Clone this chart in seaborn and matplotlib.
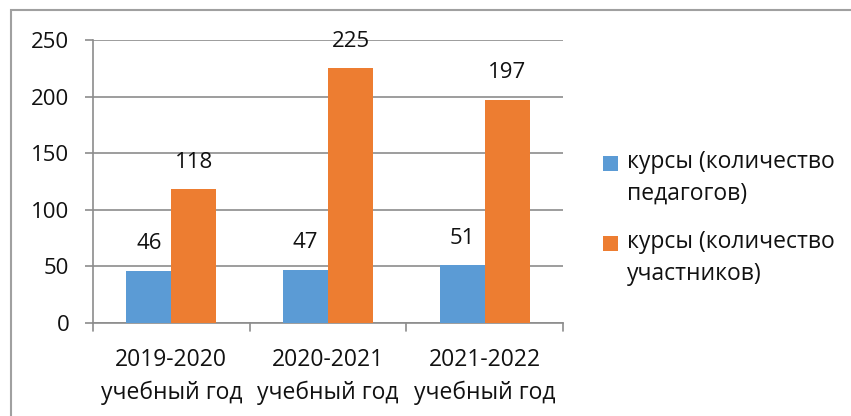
import matplotlib
matplotlib.use("Agg")
import matplotlib.pyplot as plt
import matplotlib.patches as mpatches
from matplotlib.legend_handler import HandlerPatch
import pandas as pd
import seaborn as sns

# Data
years = ["2019-2020\nучебный год", "2020-2021\nучебный год", "2021-2022\nучебный год"]
series = ["курсы (количество\nпедагогов)", "курсы (количество\nучастников)"]
teachers = [46, 47, 51]
participants = [118, 225, 197]

df = pd.DataFrame({
    "year": years * 2,
    "series": [series[0]] * 3 + [series[1]] * 3,
    "value": teachers + participants,
})

sns.set_style("white")
plt.rcParams["font.family"] = ["Open Sans", "DejaVu Sans"]

TXT = "#111111"
GRID = "#8c8c8c"

fig = plt.figure(figsize=(8.51, 4.16), dpi=100)
ax = fig.add_axes([93 / 851, 1 - 323 / 416, (563 - 93) / 851, (323 - 40) / 416])

sns.barplot(data=df, x="year", y="value", hue="series",
            palette=["#5B9BD5", "#ED7D31"], width=0.575, saturation=1,
            linewidth=0, ax=ax, zorder=3)

ax.set_ylim(0, 250)
ax.set_xlim(-0.5, 2.5)
ax.set_yticks(range(0, 251, 50))
ax.grid(True, axis="y", color=GRID, linewidth=1.2, zorder=0)
ax.set_xlabel("")
ax.set_ylabel("")

for c in ax.containers:
    ax.bar_label(c, padding=12, fontsize=16, color=TXT)

for side in ["top", "right"]:
    ax.spines[side].set_visible(False)
for side in ["left", "bottom"]:
    ax.spines[side].set_color(GRID)
    ax.spines[side].set_linewidth(1.2)

ax.tick_params(axis="y", length=6, color=GRID, width=1.2, pad=11,
               labelsize=16, labelcolor=TXT, left=True)
ax.set_xticks([0, 1, 2])
ax.set_xticklabels(years, linespacing=1.45)
ax.tick_params(axis="x", length=0, pad=18, labelsize=16.5, labelcolor=TXT)

# small downward tick marks at category boundaries
for xb in [-0.5, 0.5, 1.5, 2.5]:
    ax.plot([xb, xb], [0, -0.03], transform=ax.get_xaxis_transform(),
            color=GRID, lw=1.2, clip_on=False)


# legend squares sit next to the first line of each label (like Excel)
def top_square(legend, orig_handle, xdescent, ydescent, width, height, fontsize):
    return mpatches.Rectangle((-xdescent, -ydescent + 11), width, height)


leg = ax.legend(loc="center left", bbox_to_anchor=(603 / 851, 1 - 218 / 416),
                bbox_transform=fig.transFigure, frameon=False,
                fontsize=16.5, handlelength=0.65, handleheight=0.65,
                handletextpad=0.4, labelspacing=1.05, borderpad=0,
                borderaxespad=0, labelcolor=TXT,
                handler_map={mpatches.Rectangle: HandlerPatch(patch_func=top_square)})
for t in leg.get_texts():
    t.set_linespacing(1.45)

# chart outer frame
fig.patches.append(mpatches.Rectangle((11 / 851, -0.1), 1.2, 1 - 10 / 416 + 0.1,
                                      transform=fig.transFigure, fill=False,
                                      edgecolor="#a0a0a0", linewidth=1.5))

fig.savefig("out.png", dpi=100)
